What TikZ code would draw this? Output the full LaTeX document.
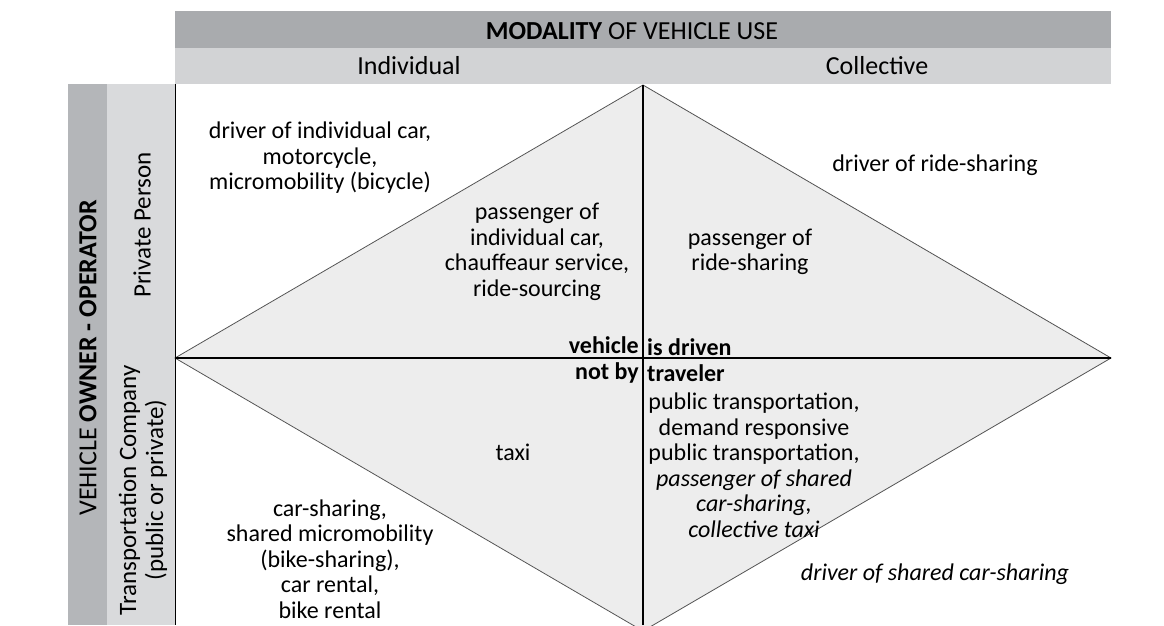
\documentclass[tikz,border=0pt]{standalone}
\usepackage{fontspec}
\setmainfont{Carlito}
\definecolor{bardark}{HTML}{A9ABAE}
\definecolor{barlight}{HTML}{D2D3D5}
\definecolor{coldark}{HTML}{B4B6B9}
\definecolor{collight}{HTML}{D9DADC}
\definecolor{diafill}{HTML}{EDEDED}
\definecolor{edgegray}{HTML}{555555}
\tikzset{
  body/.style={inner sep=0pt, align=center, font=\fontsize{24}{25.5}\selectfont},
  head/.style={inner sep=0pt, align=center, font=\fontsize{26}{28}\selectfont},
  side/.style={inner sep=0pt, align=center, rotate=90, font=\fontsize{25}{27}\selectfont},
  boldbody/.style={inner sep=0pt, font=\bfseries\fontsize{24}{25.5}\selectfont},
  divider/.style={black, line width=1.2pt},
  diaedge/.style={edgegray, line width=0.8pt}
}
\begin{document}
\begin{tikzpicture}[x=1pt,y=-1pt]
\useasboundingbox (0,0) rectangle (1164,625);
% header bars
\fill[bardark] (175,11) rectangle (1111,48);
\fill[barlight] (175,48) rectangle (1111,84);
% side columns
\fill[coldark] (68,84) rectangle (107,625);
\fill[collight] (107,84) rectangle (175,625);
% diamond
\coordinate (L) at (175,358);
\coordinate (T) at (643,85);
\coordinate (R) at (1111,358);
\coordinate (B) at (643,631);
\coordinate (Bc) at (643,625);
\coordinate (TL) at (175,84);
\coordinate (BL) at (175,625);
\begin{scope}
\clip (0,0) rectangle (1164,625);
\fill[diafill] (L) -- (T) -- (R) -- (B) -- cycle;
\draw[diaedge] (L) -- (T) -- (R) -- (B) -- cycle;
\end{scope}
\draw[divider] (L) -- (R);
\draw[divider] (T) -- (Bc);
\draw[black, line width=0.8pt] (TL) -- (BL);
% header texts
\node[head] (modality) at (632,31) {\textbf{MODALITY} OF VEHICLE USE};
\node[head] (indiv) at (409,66) {Individual};
\node[head] (coll) at (877,66) {Collective};
% side texts
\node[side, font=\fontsize{26}{28}\selectfont] (owner) at (88,358) {VEHICLE \textbf{OWNER - OPERATOR}};
\node[side] (private) at (142,225) {Private Person};
\node[side] (company) at (143,490) {Transportation Company\\(public or private)};
% cell texts
\node[body] (drvind) at (320,158) {driver of individual car,\\motorcycle,\\micromobility (bicycle)};
\node[body] (drvride) at (935,165) {driver of ride-sharing};
\node[body] (pasind) at (537,252) {passenger of\\individual car,\\chauffeaur service,\\ride-sourcing};
\node[body] (pasride) at (750,252) {passenger of\\ride-sharing};
\node[boldbody, anchor=east, align=right] (vehL) at (639,360) {vehicle\\not by};
\node[boldbody, anchor=west, align=left] (vehR) at (647,360) {is driven\\traveler};
\node[body] (taxi) at (513,452) {taxi};
\node[body] (carsh) at (330,559) {car-sharing,\\shared micromobility\\(bike-sharing),\\car rental,\\bike rental};
\node[body] (pubtr) at (754,465) {public transportation,\\demand responsive\\public transportation,\\\textit{passenger of shared}\\\textit{car-sharing,}\\\textit{collective taxi}};
\node[body] (drvshared) at (935,574) {\textit{driver of shared car-sharing}};
\end{tikzpicture}
\end{document}
